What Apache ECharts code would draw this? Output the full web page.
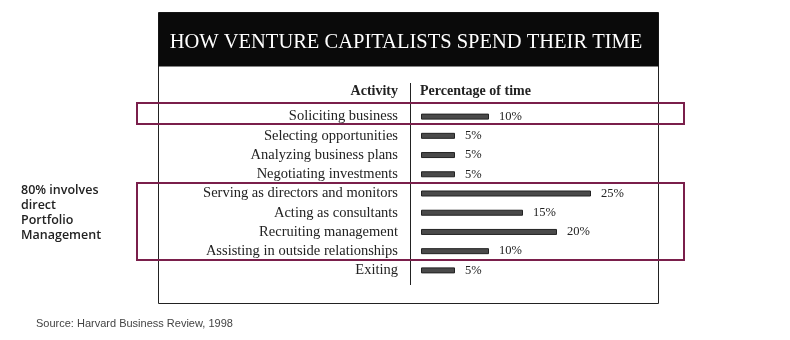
<!DOCTYPE html>
<html>
<head>
<meta charset="utf-8">
<script src="https://cdn.jsdelivr.net/npm/echarts@6/dist/echarts.min.js"></script>
<style>
html,body{margin:0;padding:0;background:#fff;}
#c{width:790px;height:340px;}
</style>
</head>
<body>
<div id="c"></div>
<script>
const titleText = 'HOW VENTURE CAPITALISTS SPEND THEIR TIME';
const headerLeft = 'Activity';
const headerRight = 'Percentage of time';
const categories = [
  'Soliciting business',
  'Selecting opportunities',
  'Analyzing business plans',
  'Negotiating investments',
  'Serving as directors and monitors',
  'Acting as consultants',
  'Recruiting management',
  'Assisting in outside relationships',
  'Exiting'
];
const values = [10, 5, 5, 5, 25, 15, 20, 10, 5];
const noteLines = ['80% involves', 'direct', 'Portfolio', 'Management'];
const sourceText = 'Source: Harvard Business Review, 1998';

const serif = '"Liberation Serif", "DejaVu Serif", serif';
const sans = '"Open Sans", "DejaVu Sans", sans-serif';
const magenta = '#7a1f4b';

const chart = echarts.init(document.getElementById('c'), null, {renderer: 'canvas'});
chart.setOption({
  animation: false,
  backgroundColor: '#fff',
  title: {
    text: titleText,
    left: 401,
    top: 27,
    textAlign: 'center',
    textStyle: {color: '#fff', fontFamily: serif, fontSize: 20.5, fontWeight: 'normal'}
  },
  grid: {left: 421, width: 170, top: 107, height: 173},
  xAxis: {
    type: 'value', min: 0, max: 25, show: false
  },
  yAxis: {
    type: 'category', data: categories, inverse: true,
    axisLine: {show: false}, axisTick: {show: false},
    axisLabel: {color: '#222', fontFamily: serif, fontSize: 14.5, margin: 23, interval: 0}
  },
  series: [{
    type: 'bar', data: values, barWidth: 6,
    itemStyle: {color: '#4a4a4a', borderColor: '#222', borderWidth: 1},
    label: {
      show: true, position: 'right', distance: 10,
      formatter: p => p.value + '%',
      color: '#222', fontFamily: serif, fontSize: 12.5
    }
  }],
  graphic: [
    {type: 'rect', z: -1, shape: {x: 158.5, y: 12.5, width: 500, height: 291},
      style: {fill: '#fff', stroke: '#222', lineWidth: 1}},
    {type: 'rect', z: 0, shape: {x: 158.5, y: 12.5, width: 500, height: 54},
      style: {fill: '#0a0a0a'}},
    {type: 'line', shape: {x1: 410.5, y1: 83, x2: 410.5, y2: 285},
      style: {stroke: '#222', lineWidth: 1}},
    {type: 'text', x: 398, y: 91,
      style: {text: headerLeft, align: 'right', verticalAlign: 'middle', fill: '#222',
        font: 'bold 14px ' + serif}},
    {type: 'text', x: 420, y: 91,
      style: {text: headerRight, align: 'left', verticalAlign: 'middle', fill: '#222',
        font: 'bold 14px ' + serif}},
    {type: 'rect', z: 10, shape: {x: 137, y: 103, width: 547, height: 21},
      style: {fill: 'none', stroke: magenta, lineWidth: 2}},
    {type: 'rect', z: 10, shape: {x: 137, y: 183, width: 547, height: 77},
      style: {fill: 'none', stroke: magenta, lineWidth: 2}},
    {type: 'text', x: 21, y: 182.5,
      style: {text: noteLines.join('\n'), fill: '#222', lineHeight: 15,
        font: '600 12.5px ' + sans}},
    {type: 'text', x: 36, y: 324,
      style: {text: sourceText, verticalAlign: 'middle', fill: '#444',
        font: '11px "Liberation Sans", Arial, sans-serif'}}
  ]
});
</script>
</body>
</html>
